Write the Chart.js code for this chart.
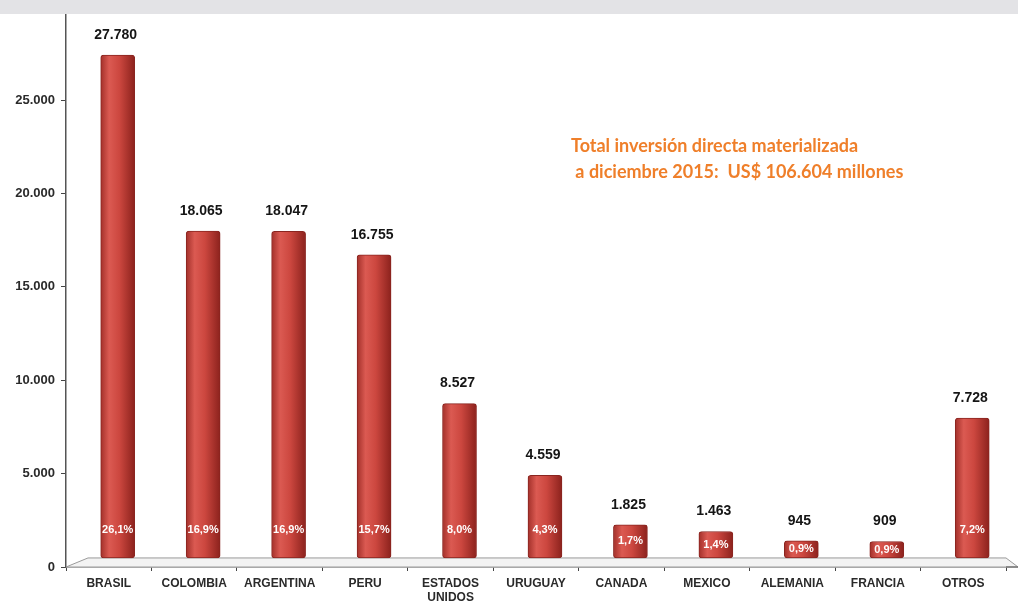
<!DOCTYPE html>
<html>
<head>
<meta charset="utf-8">
<script src="https://cdn.jsdelivr.net/npm/chart.js@4.4.1/dist/chart.umd.min.js"></script>
<style>
  html, body { margin: 0; padding: 0; }
  body {
    width: 1018px;
    height: 603px;
    background: linear-gradient(to bottom, #e3e3e6 0, #e3e3e6 14px, #ffffff 14px);
  }
  #wrap { position: relative; width: 1018px; height: 603px; }
</style>
</head>
<body>
<div id="wrap"><canvas id="myChart" width="1018" height="603"></canvas></div>
<script>
const paises = ['BRASIL', 'COLOMBIA', 'ARGENTINA', 'PERU', ['ESTADOS', 'UNIDOS'], 'URUGUAY', 'CANADA', 'MEXICO', 'ALEMANIA', 'FRANCIA', 'OTROS'];
const inversion = [27780, 18065, 18047, 16755, 8527, 4559, 1825, 1463, 945, 909, 7728];
const participacion = ['26,1%', '16,9%', '16,9%', '15,7%', '8,0%', '4,3%', '1,7%', '1,4%', '0,9%', '0,9%', '7,2%'];
const yTicks = [0, 5000, 10000, 15000, 20000, 25000];
const nota = ['Total inversión directa materializada', ' a diciembre 2015:  US$ 106.604 millones'];

const miles = (v) => String(v).replace(/\B(?=(\d{3})+(?!\d))/g, '.');
const fuente = '"Liberation Sans", Arial, sans-serif';

// cylinder shading, one gradient per bar
function cilindro(context) {
  const chart = context.chart;
  if (!chart.chartArea || !chart.scales.xb) return '#c43e37';
  const cx = chart.scales.xb.getPixelForValue(context.dataIndex);
  const g = chart.ctx.createLinearGradient(cx - 17, 0, cx + 17, 0);
  g.addColorStop(0, '#a3302a');
  g.addColorStop(0.25, '#db5a52');
  g.addColorStop(0.55, '#cc473f');
  g.addColorStop(1, '#8c221d');
  return g;
}

// 3d floor under the bars
const piso = {
  id: 'piso',
  beforeDatasetsDraw(chart) {
    const { ctx, chartArea } = chart;
    const y0 = chart.scales.y.getPixelForValue(0);
    const yf = chart.scales.yb.getPixelForValue(0);
    ctx.save();
    ctx.beginPath();
    ctx.moveTo(chartArea.left, y0);
    ctx.lineTo(chartArea.left + 22, yf);
    ctx.lineTo(chartArea.right, yf);
    ctx.lineTo(chartArea.right + 12, y0);
    ctx.closePath();
    ctx.fillStyle = '#f3f3f3';
    ctx.fill();
    ctx.strokeStyle = '#9a9a9a';
    ctx.lineWidth = 1;
    ctx.stroke();
    // axis line runs on to the edge
    ctx.beginPath();
    ctx.moveTo(chartArea.right, y0);
    ctx.lineTo(chartArea.right + 12, y0);
    ctx.strokeStyle = '#777';
    ctx.lineWidth = 1.5;
    ctx.stroke();
    ctx.restore();
  }
};

// value above each bar, share inside it
const etiquetas = {
  id: 'etiquetas',
  afterDatasetsDraw(chart) {
    const { ctx } = chart;
    const meta = chart.getDatasetMeta(0);
    ctx.save();
    ctx.textAlign = 'center';
    ctx.textBaseline = 'middle';
    meta.data.forEach((bar, i) => {
      ctx.font = 'bold 14px ' + fuente;
      ctx.fillStyle = '#151515';
      ctx.fillText(miles(inversion[i]), bar.x - 2, bar.y - 20);
      ctx.font = 'bold 11px ' + fuente;
      ctx.fillStyle = '#ffffff';
      const yp = Math.max(bar.base - 28, (bar.y + bar.base) / 2);
      ctx.fillText(participacion[i], bar.x, yp);
    });
    ctx.restore();
  }
};

const totalNota = {
  id: 'totalNota',
  afterDraw(chart) {
    const { ctx } = chart;
    ctx.save();
    ctx.font = 'bold 18px Lato, "Open Sans", sans-serif';
    ctx.fillStyle = '#ef7f2a';
    ctx.textBaseline = 'middle';
    ctx.fillText(nota[0], 571, 146);
    ctx.fillText(nota[1], 571, 172);
    ctx.restore();
  }
};

const ctx = document.getElementById('myChart').getContext('2d');

// eslint-disable-next-line no-undef, no-unused-vars
const chart = new Chart(ctx, {
  type: 'bar',
  data: {
    labels: paises,
    datasets: [
      {
        label: 'Inversión',
        xAxisID: 'xb',
        yAxisID: 'yb',
        data: inversion.map((v, i) => ({ x: i, y: v })),
        backgroundColor: cilindro,
        borderColor: '#8a2520',
        borderWidth: 1,
        borderRadius: 3,
        borderSkipped: false,
        barThickness: 34,
      },
    ],
  },
  options: {
    responsive: false,
    animation: false,
    events: [],
    layout: { padding: { top: 15, left: 0, right: 12, bottom: 0 } },
    plugins: { legend: { display: false }, tooltip: { enabled: false } },
    scales: {
      x: {
        type: 'category',
        position: 'bottom',
        offset: true,
        afterFit(scale) { scale.height = 36; },
        grid: {
          offset: true,
          drawOnChartArea: false,
          tickLength: 4,
          color: '#444',
        },
        border: { color: '#777', width: 1.5 },
        ticks: {
          padding: 6,
          maxRotation: 0,
          autoSkip: false,
          color: '#2a2a2a',
          font: { family: fuente, size: 12, weight: 'bold', lineHeight: 1.15 },
        },
      },
      // bars sit on a shifted axis pair to mimic the 3d depth
      xb: {
        type: 'linear',
        display: false,
        offset: false,
        grid: { offset: false },
        min: -0.605,
        max: 10.395,
      },
      y: {
        type: 'linear',
        position: 'left',
        min: 0,
        max: 29560,
        afterFit(scale) { scale.width = 66; },
        afterBuildTicks(scale) {
          scale.ticks = yTicks.map((v) => ({ value: v }));
        },
        grid: {
          drawOnChartArea: false,
          tickLength: 5,
          color: '#444',
        },
        border: { color: '#555', width: 1.5 },
        ticks: {
          padding: 6,
          color: '#2a2a2a',
          font: { family: fuente, size: 13, weight: 'bold' },
          callback: (v) => miles(v),
        },
      },
      yb: {
        type: 'linear',
        display: false,
        min: -500,
        max: 30000,
      },
    },
  },
  plugins: [piso, etiquetas, totalNota],
});
</script>
</body>
</html>
